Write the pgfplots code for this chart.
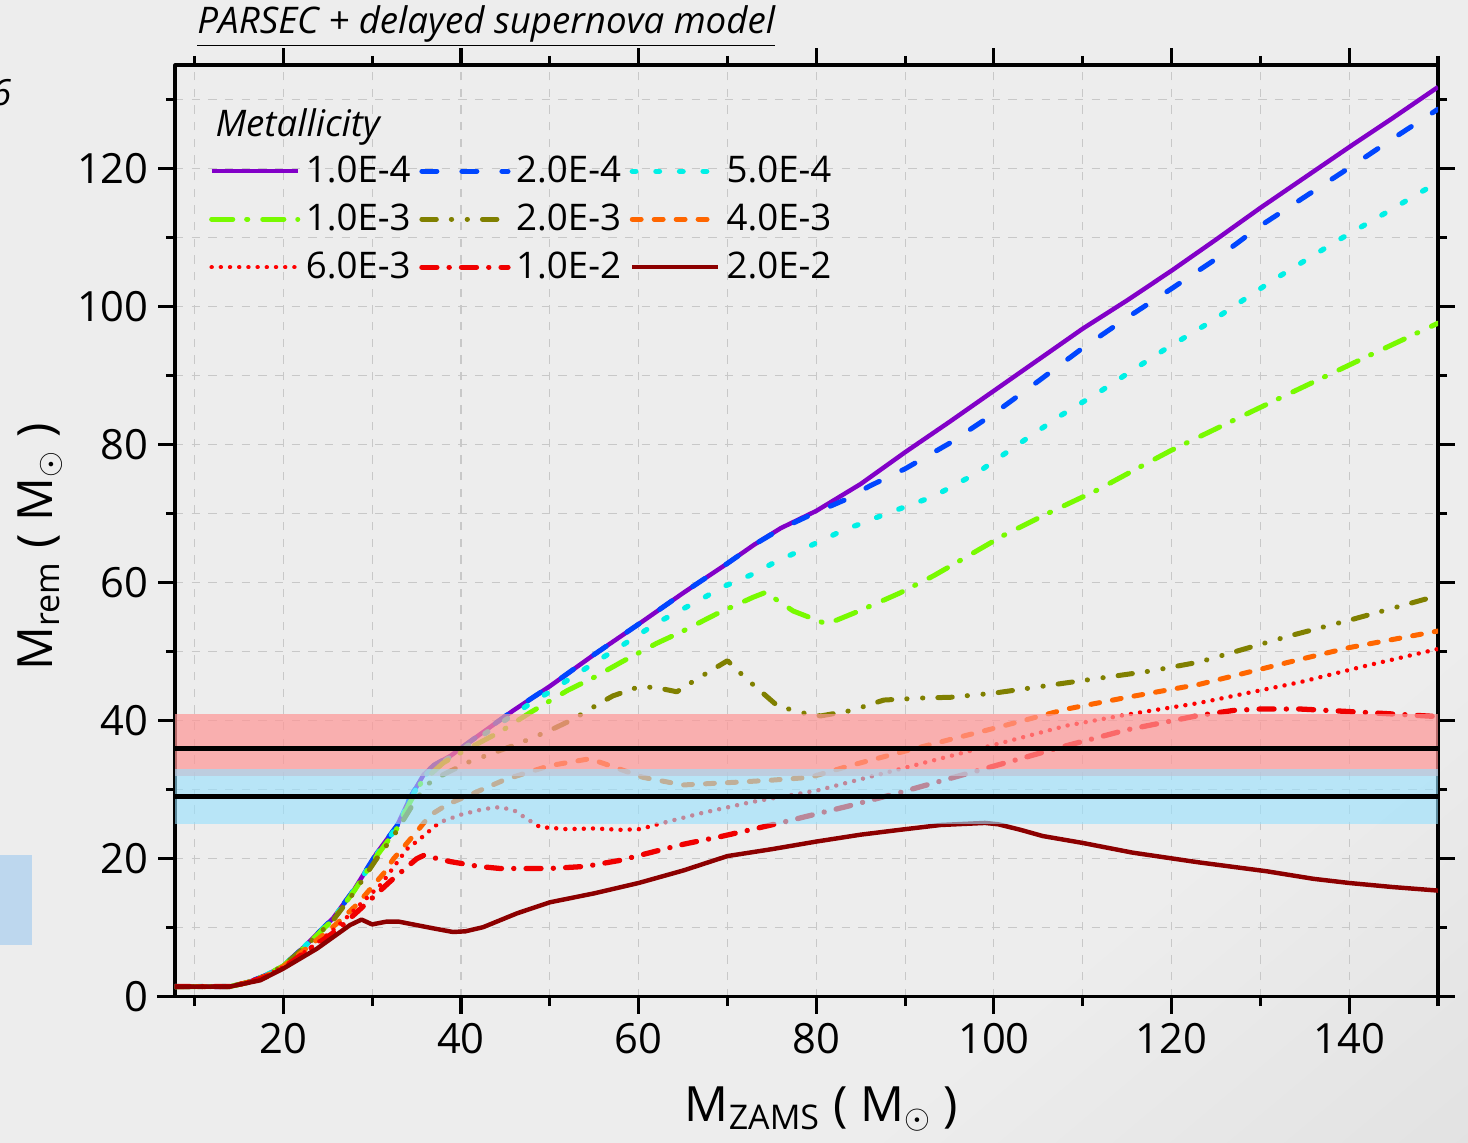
\documentclass[border=0pt]{standalone}
\usepackage{pgfplots}
\pgfplotsset{compat=1.18}
\usepackage{fontspec}
\setmainfont{Open Sans}

\definecolor{bgc}{RGB}{237,237,237}
\definecolor{bgdark}{RGB}{216,216,216}
\definecolor{gridc}{RGB}{200,200,200}
\definecolor{leftrect}{RGB}{189,215,238}
\definecolor{cP1}{RGB}{130,0,200}
\definecolor{cP2}{RGB}{0,70,255}
\definecolor{cP3}{RGB}{0,240,230}
\definecolor{cP4}{RGB}{120,250,0}
\definecolor{cP5}{RGB}{128,128,0}
\definecolor{cP6}{RGB}{255,102,0}
\definecolor{cP7}{RGB}{255,0,0}
\definecolor{cP8}{RGB}{240,0,0}
\definecolor{cP9}{RGB}{140,0,0}
\definecolor{bandR}{RGB}{255,150,150}
\definecolor{bandB}{RGB}{150,225,255}

\pgfdeclareverticalshading{bgshade}{100bp}{color(0bp)=(bgdark); color(30bp)=(bgc); color(100bp)=(bgc)}

\begin{document}
\begin{tikzpicture}
% page background and cropped bits at the left edge
\shade[shading=bgshade, shading angle=40] (-63pt,-52.56pt) rectangle (465.5pt,358.9pt);
\fill[leftrect] (-63pt,18.7pt) rectangle (-51.5pt,51.1pt);
\node[anchor=base east, inner sep=0pt, font=\fontsize{13}{15}\selectfont\itshape] at (-58.7pt,321pt) {6};

\begin{axis}[
  scale only axis, width=454.7pt, height=335.5pt,
  xmin=7.8, xmax=150, ymin=0, ymax=135,
  xtick={20,40,...,140}, minor xtick={10,30,...,150},
  ytick={0,20,...,120}, minor ytick={10,30,...,130},
  tick align=outside, major tick length=6pt, minor tick length=3.3pt,
  every tick/.style={black, line width=1.1pt},
  axis line style={line width=1.1pt},
  grid=both,
  major grid style={gridc, dash pattern=on 3pt off 3pt, line width=0.4pt},
  minor grid style={gridc, dash pattern=on 3pt off 3pt, line width=0.4pt},
  ticklabel style={font=\fontsize{15}{17}\selectfont},
  /pgf/number format/assume math mode=true,
  every axis x label/.style={at={(axis description cs:0.512,-0.134)}, anchor=base},
  every axis y label/.style={at={(axis description cs:-0.107,0.483)}, rotate=90, anchor=center},
  label style={font=\fontsize{17.5}{20}\selectfont},
  xlabel={M\textsubscript{ZAMS} ( M\textsubscript{$\odot$} )},
  ylabel={M\textsubscript{rem} ( M\textsubscript{$\odot$} )},
  legend columns=3,
  legend style={at={(axis description cs:0.02,0.915)}, anchor=north west, draw=none, fill=none,
    font=\fontsize{13.2}{15}\selectfont, row sep=2.2pt,
    /tikz/every even column/.append style={column sep=1.1pt}},
  legend image code/.code={\draw[#1] (0pt,0pt) -- (31pt,0pt);},
  line join=round,
]

\addplot[cP1, line width=1.6pt] coordinates {
(7.8,1.5) (14,1.5) (16,2.1) (18,3.1) (20,4.5) (22.3,7.2) (25.6,11.4) (28,15.6) (30.5,20.8) (32.8,24.8) (34.3,28.9) (35.8,32.2) (37,33.6) (38.8,34.9) (42,37.9) (45.9,41.5) (50,45.0) (55,49.6) (60,54.0) (65,58.5) (70,62.8) (73,65.5) (76,67.9) (80,70.4) (85,74.3) (90,78.9) (95,83.3) (100,87.8) (105,92.3) (110,96.8) (115,100.9) (120,105.2) (125,109.7) (130,114.3) (135,118.7) (140,123.1) (145,127.4) (150,131.8)};
\addlegendentry{1.0E-4}

\addplot[cP2, line width=1.8pt, line cap=round, dash pattern=on 5.4pt off 9pt] coordinates {
(7.8,1.5) (14,1.5) (16,2.1) (18,3.1) (20,4.5) (22.3,7.2) (25.6,11.4) (28,15.6) (30.5,20.8) (32.8,24.8) (34.3,28.9) (35.8,32.2) (37,33.6) (38.8,34.9) (42,37.9) (45.9,41.5) (50,45.0) (55,49.6) (60,54.0) (65,58.5) (70,62.8) (73,65.5) (76,67.8) (80,70.2) (83.4,72.1) (86,74.0) (90,76.5) (95,80.2) (100,84.5) (105,89.2) (110,94.0) (115,98.4) (120,102.6) (125,106.9) (130,111.7) (135,115.9) (140,120.1) (145,124.4) (150,128.6)};
\addlegendentry{2.0E-4}

\addplot[cP3, line width=1.9pt, line cap=round, dash pattern=on 1.3pt off 7.2pt] coordinates {
(7.8,1.5) (14,1.5) (16,2.1) (18,3.1) (20,4.5) (22.3,7.2) (25.6,11.3) (28,15.5) (30.5,20.6) (32.8,24.6) (34.3,28.7) (35.8,31.9) (37,33.3) (40,35.7) (43,38.4) (47.8,42.5) (50,44.2) (54.9,48.3) (58,50.8) (62.1,54.2) (67.3,57.8) (69.5,59.4) (72.6,61.1) (75.1,62.8) (77.6,64.3) (82.7,67.4) (87.9,70.0) (93.2,72.5) (98.1,75.9) (102.8,80.1) (107.5,84.2) (112.2,87.9) (114.8,90.1) (119,93.6) (124.4,97.8) (131.4,103.8) (138.6,109.5) (143.6,113.2) (148.5,116.9) (150,117.9)};
\addlegendentry{5.0E-4}

\addplot[cP4, line width=1.8pt, line cap=round, dash pattern=on 7.6pt off 5pt on 0.4pt off 5.4pt] coordinates {
(7.8,1.5) (14,1.5) (16,2.1) (18,3.1) (20,4.5) (22.3,7.1) (25.6,11.2) (28,15.4) (30.5,20.4) (32.8,24.4) (34.3,28.3) (35.5,31.0) (38,33.9) (40,35.4) (44.4,38.4) (47.8,41.2) (52,44.4) (55,46.3) (58.2,48.6) (62,51.2) (65,53.0) (68.8,55.5) (72.9,57.9) (74.3,58.6) (77.4,55.9) (81.2,54.0) (85,56.0) (89.4,58.5) (93.2,61.0) (95.1,62.4) (101,66.8) (106,70.0) (111.6,73.4) (116.2,76.6) (120,79.2) (130,85.4) (142.4,93.0) (150,97.6)};
\addlegendentry{1.0E-3}

\addplot[cP5, line width=1.8pt, line cap=round, dash pattern=on 5.2pt off 5.4pt on 0.1pt off 5.6pt on 0.1pt off 5.4pt] coordinates {
(7.8,1.5) (14,1.5) (16,2.1) (18,3.1) (20,4.5) (22.3,7.1) (25.6,11.1) (28,15.2) (30.5,20.0) (32.4,23.3) (34.6,27.9) (36.1,30.7) (38,32.2) (41,34.1) (46.3,36.6) (50,38.6) (52.6,40.2) (55.7,42.6) (57.1,43.6) (60.2,45.0) (62.4,44.7) (64.3,44.2) (66.5,46.0) (70,48.7) (72.2,46.0) (75.6,42.2) (78.2,41.2) (80.5,40.7) (84,41.5) (87.6,43.0) (92,43.3) (95.1,43.4) (100,44.0) (108.2,45.5) (117.6,47.2) (123.1,48.5) (133.3,52.3) (140.4,54.7) (148.8,57.7) (150,58.1)};
\addlegendentry{2.0E-3}

\addplot[cP6, line width=1.8pt, line cap=round, dash pattern=on 3.2pt off 4.7pt] coordinates {
(7.8,1.5) (14,1.5) (16,2.1) (18,3.0) (20,4.4) (22,6.4) (24.5,9.0) (26,10.6) (28.3,13.4) (31.3,17.9) (32.4,20.0) (35,23.9) (36.5,26.3) (38.5,27.9) (40.7,29.1) (45,31.5) (50,33.5) (54.5,34.5) (57,33.4) (60.5,31.8) (65,30.7) (71,31.1) (75,31.4) (79.3,31.8) (83.8,33.5) (89.4,35.4) (95.1,37.3) (100,38.9) (108.2,41.7) (115,43.4) (123.2,45.3) (134.5,48.9) (140,50.6) (150,53.0)};
\addlegendentry{4.0E-3}

\addplot[cP7, line width=1.6pt, line cap=round, dash pattern=on 0.01pt off 3.3pt] coordinates {
(7.8,1.5) (14,1.5) (16,2.1) (18,3.0) (20,4.3) (22,6.1) (24,8.0) (26,10.1) (28,12.6) (31,16.3) (33.9,21.4) (35.4,22.9) (37.6,25.3) (40,26.4) (42.5,27.2) (44.4,27.5) (46,27.0) (47.4,25.8) (48.9,24.6) (51.9,24.3) (55,24.4) (58,24.2) (60.2,24.3) (62.4,25.1) (67,26.6) (72.6,28.2) (80.1,29.9) (89.4,33.0) (95.1,34.9) (100,36.5) (108.2,39.3) (115,40.9) (123.2,42.6) (134.5,45.6) (142,48.0) (150,50.4)};
\addlegendentry{6.0E-3}

\addplot[cP8, line width=1.9pt, line cap=round, dash pattern=on 5.4pt off 4.4pt on 0.05pt off 4.4pt] coordinates {
(7.8,1.5) (14,1.5) (16,2.1) (18,2.9) (20,4.2) (23,7.0) (26,9.6) (29.4,13.6) (32,16.7) (35,20.0) (35.8,20.5) (38.8,19.6) (42,18.9) (44.4,18.6) (50,18.6) (54,18.9) (58,19.8) (61.3,20.9) (65,22.1) (69.5,23.3) (75.6,25.1) (83.8,27.7) (89.4,29.6) (98.8,33.0) (108.2,36.4) (115,38.7) (123.2,40.8) (127,41.5) (130,41.7) (134.5,41.7) (142,41.2) (150,40.6)};
\addlegendentry{1.0E-2}

\addplot[cP9, line width=1.6pt] coordinates {
(7.8,1.5) (14,1.5) (17.4,2.4) (20,4.1) (23.8,7.0) (27.5,10.4) (28.8,11.2) (30,10.5) (31.6,10.9) (33,10.9) (35,10.4) (37,9.9) (39.1,9.4) (40.5,9.5) (42.5,10.1) (46.3,12.1) (50,13.7) (55,15.0) (60,16.5) (65,18.3) (70,20.4) (75,21.4) (80,22.5) (85,23.5) (89.4,24.2) (94,24.9) (99,25.2) (100.5,25.0) (103,24.2) (105.5,23.3) (110,22.3) (115.6,20.9) (123,19.5) (130.7,18.2) (136,17.1) (140,16.5) (145,15.9) (150,15.4)};
\addlegendentry{2.0E-2}

% observed ranges, drawn over the curves
\addplot[draw=none, fill=bandR, fill opacity=0.7, forget plot] coordinates {(7.8,32) (150,32) (150,41) (7.8,41)} -- cycle;
\addplot[draw=none, fill=bandB, fill opacity=0.6, forget plot] coordinates {(7.8,25) (150,25) (150,33) (7.8,33)} -- cycle;
\addplot[black, line width=1.8pt, forget plot] coordinates {(7.8,36) (150,36)};
\addplot[black, line width=1.8pt, forget plot] coordinates {(7.8,29) (150,29)};

\end{axis}

\draw[line width=1.1pt] (-6.5pt,0pt) -- (0pt,0pt);
\node[anchor=base west, inner sep=0pt, font=\fontsize{13.2}{15}\selectfont\itshape] at (14.4pt,309.6pt) {Metallicity};
\node[anchor=base west, inner sep=0pt, font=\fontsize{13.2}{15}\selectfont\itshape] at (7.9pt,347pt) {\underline{PARSEC + delayed supernova model}};

\pgfresetboundingbox
\useasboundingbox (-63pt,-52.56pt) rectangle (465.5pt,358.9pt);
\end{tikzpicture}
\end{document}
